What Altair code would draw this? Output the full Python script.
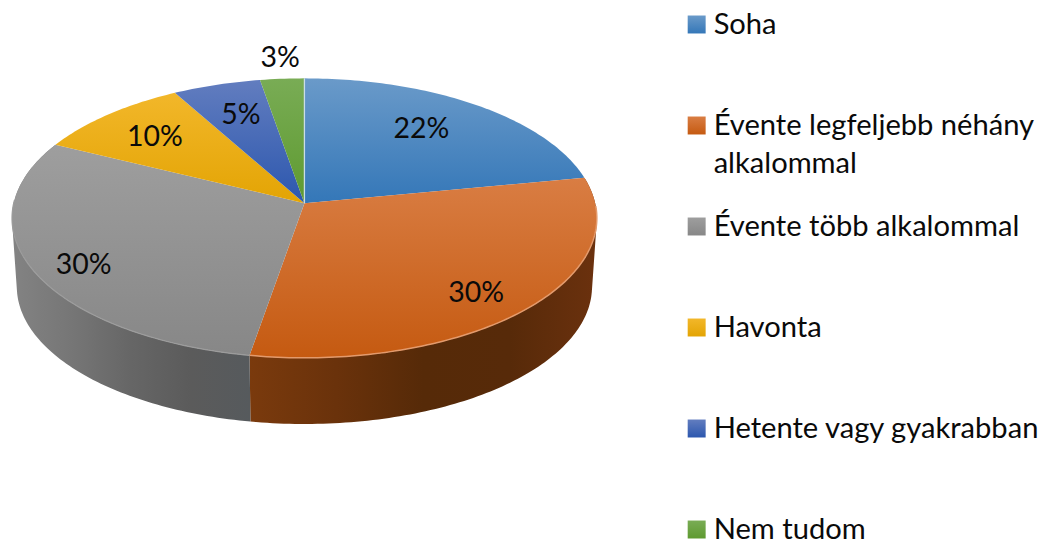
import math
import altair as alt

categories = ["Soha", "Évente legfeljebb néhány", "Évente több alkalommal", "Havonta", "Hetente vagy gyakrabban", "Nem tudom"]
# estimated underlying shares (labels show the rounded figures)
shares = [22, 30.7, 29.6, 9.6, 5.4, 2.7]
pct_labels = ["22%", "30%", "30%", "10%", "5%", "3%"]
top_stops = [("#6a9ac9", "#3477b8"), ("#d97d43", "#c55a11"), ("#9e9e9e", "#878787"),
             ("#f2b72a", "#e3a404"), ("#627dbf", "#2c57ae"), ("#79ac55", "#5e9a30")]
legend_lines = [["Soha"], ["Évente legfeljebb néhány", "alkalommal"], ["Évente több alkalommal"],
                ["Havonta"], ["Hetente vagy gyakrabban"], ["Nem tudom"]]
label_f = [0.72, 0.80, 0.84, 0.77, 0.74, 1.15]
label_nudge = [(-9, -2), (-5, 8), (6, 7), (4, 3), (3, 2), (1, -4)]

W, H = 1032, 526
CX, CY, RX, A, K = 297, 195, 291.3, 138.4, 0.107
BCY, BRX, BA = 264, 286.5, 136


def rim(theta, cy=CY, rx=RX, a=A, f=1.0):
    t = math.radians(theta)
    u, v = math.sin(t) * f, math.cos(t) * f
    s = 1 / (1 + K * v)
    return [CX + rx * u * s, cy - a * v * s]


def grad(stops, horizontal=False):
    n = len(stops) - 1
    return alt.Gradient(
        gradient="linear",
        x1=0, y1=0, x2=1 if horizontal else 0, y2=0 if horizontal else 1,
        stops=[alt.GradientStop(color=c, offset=i / n) for i, c in enumerate(stops)],
    )


def feature(geom):
    return {"type": "Feature", "properties": {}, "geometry": geom}


proj = dict(type="identity", scale=1, translate=[0, 0])


def geo(geom, **mark):
    return (
        alt.Chart(alt.Data(values=[feature(geom)], format=alt.DataFormat(type="json")))
        .mark_geoshape(strokeWidth=mark.pop("strokeWidth", 0), **mark)
        .project(**proj)
    )


total = sum(shares)
edges = [0.0]
for v in shares:
    edges.append(edges[-1] + v / total * 360)


def arc_angles(a, b):
    n = max(2, int(abs(b - a)))
    return [a + (b - a) * i / n for i in range(n + 1)]


def wall(a, b):
    polys = []
    ang = arc_angles(a, b)
    for p, q in zip(ang, ang[1:]):
        ring = [rim(p), rim(q), rim(q, BCY, BRX, BA), rim(p, BCY, BRX, BA)]
        area = sum(ring[i][0] * ring[(i + 1) % 4][1] - ring[(i + 1) % 4][0] * ring[i][1] for i in range(4))
        if area < 0:
            ring.reverse()
        polys.append([ring + [ring[0]]])
    return {"type": "MultiPolygon", "coordinates": polys}


layers = [
    geo(wall(edges[1], edges[2]),
        color=grad(["#7a3a0d", "#6a320b", "#562a08", "#572a09", "#6b310e"], True)),
    geo(wall(edges[2], edges[3]),
        color=grad(["#838383", "#767676", "#666666", "#5b5b5b", "#565a5d"], True)),
]

for i, (a, b) in enumerate(zip(edges, edges[1:])):
    ring = [[CX, CY]] + [rim(t) for t in arc_angles(a, b)] + [[CX, CY]]
    layers.append(geo({"type": "Polygon", "coordinates": [ring]}, color=grad(list(top_stops[i]))))

# lighter bevel on the front rim of the top face
layers.append(geo({"type": "LineString", "coordinates": [rim(t) for t in arc_angles(edges[1] + 12, edges[2])]},
                  filled=False, stroke="#e39a6c", strokeWidth=1.5))
layers.append(geo({"type": "LineString", "coordinates": [rim(t) for t in arc_angles(edges[2], edges[3] - 25)]},
                  filled=False, stroke="#9c9c9c", strokeWidth=1.2))
# pale seam at twelve o'clock
layers.append(geo({"type": "LineString", "coordinates": [[CX, CY], rim(0)]},
                  filled=False, stroke="#c9dde6", strokeWidth=1.3))

xs = alt.X("x:Q", scale=alt.Scale(domain=[0, W], range=[0, W]), axis=None)
ys = alt.Y("y:Q", scale=alt.Scale(domain=[0, H], range=[0, H]), axis=None)
FONT = "Lato"

# percentage labels, placed along each slice's mid-angle
lab = []
for i, (a, b) in enumerate(zip(edges, edges[1:])):
    x, y = rim((a + b) / 2, f=label_f[i])
    lab.append({"x": x + label_nudge[i][0], "y": y + label_nudge[i][1], "t": pct_labels[i]})
layers.append(
    alt.Chart(alt.Data(values=lab)).mark_text(font=FONT, fontSize=28.5, color="#0a0a0a", baseline="middle", align="center")
    .encode(x=xs, y=ys, text="t:N")
)

# legend
row_y = [16 + i * 101.2 for i in range(6)]
for i, lines in enumerate(legend_lines):
    layers.append(
        alt.Chart(alt.Data(values=[{"x": 690, "y": row_y[i]}]))
        .mark_square(size=324, opacity=1, color=grad(list(top_stops[i])), strokeWidth=0)
        .encode(x=xs, y=ys)
    )
    rows = [{"x": 707, "y": row_y[i] + 1 + j * 38, "t": t} for j, t in enumerate(lines)]
    layers.append(
        alt.Chart(alt.Data(values=rows)).mark_text(font=FONT, fontSize=29.2, color="#0a0a0a", baseline="middle", align="left")
        .encode(x=xs, y=ys, text="t:N")
    )

chart = (
    alt.layer(*layers)
    .properties(width=W, height=H, padding=0)
    .configure_view(stroke=None)
)
chart.save("out.html", embed_options={"renderer": "svg", "actions": False})
